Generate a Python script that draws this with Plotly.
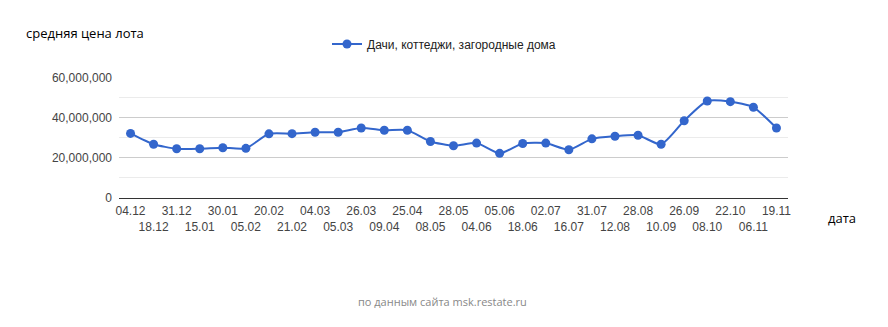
import plotly.graph_objects as go

# Dates of observations (dd.mm) and average lot price, rubles
dates = ["04.12", "18.12", "31.12", "15.01", "30.01", "05.02", "20.02", "21.02",
         "04.03", "05.03", "26.03", "09.04", "25.04", "08.05", "28.05", "04.06",
         "05.06", "18.06", "02.07", "16.07", "31.07", "12.08", "28.08", "10.09",
         "26.09", "08.10", "22.10", "06.11", "19.11"]
prices = [32.1, 26.7, 24.5, 24.5, 25.0, 24.7, 31.9, 32.0,
          32.7, 32.7, 34.8, 33.7, 33.7, 28.1, 26.0, 27.3,
          22.2, 27.1, 27.3, 24.0, 29.4, 30.7, 31.2, 26.7,
          38.4, 48.2, 47.9, 45.1, 34.8]
prices = [p * 1e6 for p in prices]
series_name = "Дачи, коттеджи, загородные дома"

W, H = 888, 327
L, R, T, B = 119, 100, 76, 129
pw, ph = W - L - R, H - T - B

def px(x):
    return (x - L) / pw

def py(y):
    return (H - B - y) / ph

idx = list(range(len(dates)))
# labels alternate between two rows under the axis
ticktext = [d if i % 2 == 0 else "<br>" + d for i, d in enumerate(dates)]

fig = go.Figure()
fig.add_trace(go.Scatter(
    x=idx, y=prices, name=series_name, mode="lines+markers",
    line=dict(color="#3366cc", width=2, shape="spline", smoothing=0.6),
    marker=dict(color="#3366cc", size=9),
))

fig.update_layout(
    width=W, height=H,
    margin=dict(l=L, r=R, t=T, b=B, pad=0),
    paper_bgcolor="white", plot_bgcolor="white",
    font=dict(family="Liberation Sans, Arial", size=12, color="#444"),
    showlegend=True,
    legend=dict(orientation="h", xref="container", yref="container",
                x=0.5, xanchor="center", y=1 - 44 / H, yanchor="middle",
                font=dict(family="Liberation Sans, Arial", size=12, color="#222"),
                itemwidth=30),
    xaxis=dict(
        range=[-0.5, len(dates) - 0.5],
        tickmode="array", tickvals=idx, ticktext=ticktext, tickangle=0,
        showgrid=False, zeroline=False, ticks="",
        showline=True, linecolor="#333", linewidth=1,
        tickfont=dict(size=12, color="#444"),
        ticklabelstandoff=2,
        fixedrange=True,
    ),
    yaxis=dict(
        range=[0, 60e6], dtick=20e6, tickformat=",",
        showgrid=True, gridcolor="#cccccc", gridwidth=1,
        minor=dict(dtick=10e6, showgrid=True, gridcolor="#ebebeb", gridwidth=1),
        zeroline=False, showline=False, ticks="",
        tickfont=dict(size=12, color="#444"),
        ticklabelstandoff=6,
        fixedrange=True,
    ),
    annotations=[
        dict(text="средняя цена лота", xref="paper", yref="paper",
             x=px(24), y=py(31), xanchor="left", yanchor="middle",
             showarrow=False, font=dict(family="Open Sans", size=13, color="#000")),
        dict(text="дата", xref="paper", yref="paper",
             x=px(842), y=py(218), xanchor="center", yanchor="middle",
             showarrow=False, font=dict(family="Open Sans", size=13, color="#000")),
        dict(text="по данным сайта msk.restate.ru", xref="paper", yref="paper",
             x=px(442.5), y=py(302.5), xanchor="center", yanchor="middle",
             showarrow=False, font=dict(family="Open Sans", size=11, color="#888")),
    ],
)

fig.write_html("out.html")
